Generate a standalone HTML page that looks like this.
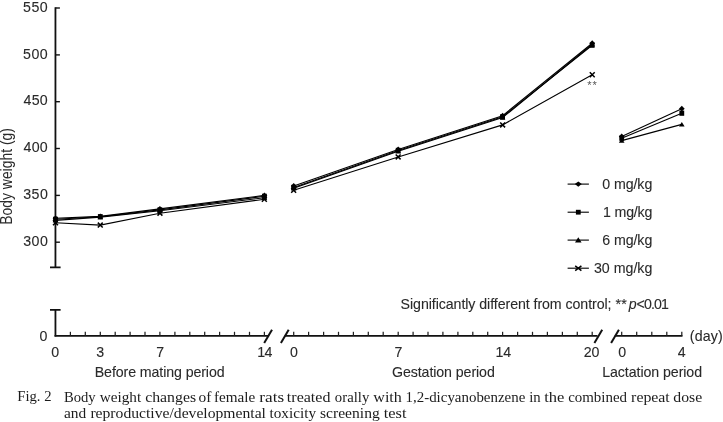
<!DOCTYPE html><html><head><meta charset="utf-8"><title>Fig. 2</title>
<style>html,body{margin:0;padding:0;background:#fff}body{width:723px;height:422px;overflow:hidden}svg{display:block}.a{font-family:"Liberation Sans",Arial,sans-serif;font-size:14.2px;fill:#2a2a2a;stroke:#2a2a2a;stroke-width:0.1px}.c{font-family:"Liberation Serif","Times New Roman",serif;font-size:14.4px;fill:#1c1c1c}</style></head><body>
<svg width="723" height="422" viewBox="0 0 723 422">
<rect width="723" height="422" fill="#fff"/>
<g stroke="#111" stroke-width="1.8" fill="none">
<path d="M55.45 7.3V267.3M50 267.3H60.6M50 309.9H60.6M55.45 309.9V336.59999999999997"/>
<path d="M55.45 8.0H59.9" stroke-width="1.4"/>
<path d="M55.45 54.9H59.9" stroke-width="1.4"/>
<path d="M55.45 101.7H59.9" stroke-width="1.4"/>
<path d="M55.45 148.5H59.9" stroke-width="1.4"/>
<path d="M55.45 195.4H59.9" stroke-width="1.4"/>
<path d="M55.45 242.2H59.9" stroke-width="1.4"/>
<path d="M54.550000000000004 335.85H268.3M284.8 335.85H597.5M614.8 335.85H682.5" stroke-width="1.9"/>
</g>
<g stroke="#222" stroke-width="1.25" fill="none">
<path d="M70.4 335.7V331.8"/>
<path d="M85.3 335.7V331.8"/>
<path d="M100.3 335.7V331.8"/>
<path d="M115.2 335.7V331.8"/>
<path d="M130.1 335.7V331.8"/>
<path d="M145.0 335.7V331.8"/>
<path d="M159.9 335.7V331.8"/>
<path d="M174.9 335.7V331.8"/>
<path d="M189.8 335.7V331.8"/>
<path d="M204.7 335.7V331.8"/>
<path d="M219.6 335.7V331.8"/>
<path d="M234.5 335.7V331.8"/>
<path d="M249.5 335.7V331.8"/>
<path d="M264.4 335.7V331.8"/>
<path d="M293.7 335.7V331.8"/>
<path d="M308.6 335.7V331.8"/>
<path d="M323.6 335.7V331.8"/>
<path d="M338.5 335.7V331.8"/>
<path d="M353.4 335.7V331.8"/>
<path d="M368.3 335.7V331.8"/>
<path d="M383.2 335.7V331.8"/>
<path d="M398.2 335.7V331.8"/>
<path d="M413.1 335.7V331.8"/>
<path d="M428.0 335.7V331.8"/>
<path d="M442.9 335.7V331.8"/>
<path d="M457.9 335.7V331.8"/>
<path d="M472.8 335.7V331.8"/>
<path d="M487.7 335.7V331.8"/>
<path d="M502.6 335.7V331.8"/>
<path d="M517.6 335.7V331.8"/>
<path d="M532.5 335.7V331.8"/>
<path d="M547.4 335.7V331.8"/>
<path d="M562.4 335.7V331.8"/>
<path d="M577.3 335.7V331.8"/>
<path d="M592.2 335.7V331.8"/>
<path d="M621.7 335.7V331.8"/>
<path d="M636.7 335.7V331.8"/>
<path d="M651.8 335.7V331.8"/>
<path d="M666.8 335.7V331.8"/>
<path d="M681.8 335.7V331.8"/>
</g>
<g stroke="#111" stroke-width="2" fill="none">
<path d="M264.2 342.9L272.0 329.7"/>
<path d="M280.9 342.9L288.7 329.7"/>
<path d="M594.4 342.9L602.2 329.7"/>
<path d="M611.1 342.9L618.9 329.7"/>
</g>
<g stroke="#000" stroke-width="1.1" fill="none">
<polyline points="55.5,218.3 100.3,216.4 159.9,208.9 264.4,195.4"/>
<polyline points="293.7,186.0 398.2,149.5 502.6,115.7 592.2,43.2"/>
<polyline points="621.7,136.4 681.8,108.7"/>
<polyline points="55.5,219.3 100.3,216.7 159.9,209.9 264.4,196.3"/>
<polyline points="293.7,187.4 398.2,150.4 502.6,116.7 592.2,45.2"/>
<polyline points="621.7,138.2 681.8,113.2"/>
<polyline points="55.5,220.4 100.3,217.1 159.9,210.8 264.4,197.7"/>
<polyline points="293.7,188.3 398.2,151.3 502.6,117.6 592.2,44.3"/>
<polyline points="621.7,140.6 681.8,124.4"/>
<polyline points="55.5,222.7 100.3,225.1 159.9,213.2 264.4,199.3"/>
<polyline points="293.7,190.2 398.2,157.0 502.6,124.9 592.2,74.7"/>
</g>
<path d="M55.5 215.4L58.4 218.3L55.5 221.2L52.6 218.3Z" fill="#000"/>
<path d="M100.3 213.5L103.2 216.4L100.3 219.3L97.4 216.4Z" fill="#000"/>
<path d="M159.9 206.0L162.8 208.9L159.9 211.8L157.0 208.9Z" fill="#000"/>
<path d="M264.4 192.5L267.3 195.4L264.4 198.3L261.5 195.4Z" fill="#000"/>
<path d="M293.7 183.1L296.6 186.0L293.7 188.9L290.8 186.0Z" fill="#000"/>
<path d="M398.2 146.6L401.1 149.5L398.2 152.4L395.3 149.5Z" fill="#000"/>
<path d="M502.6 112.8L505.5 115.7L502.6 118.6L499.8 115.7Z" fill="#000"/>
<path d="M592.2 40.3L595.1 43.2L592.2 46.1L589.3 43.2Z" fill="#000"/>
<path d="M621.7 133.5L624.6 136.4L621.7 139.3L618.8 136.4Z" fill="#000"/>
<path d="M681.8 105.8L684.7 108.7L681.8 111.6L678.9 108.7Z" fill="#000"/>
<rect x="53.1" y="216.7" width="4.8" height="5.2" fill="#000"/>
<rect x="97.9" y="214.1" width="4.8" height="5.2" fill="#000"/>
<rect x="157.5" y="207.3" width="4.8" height="5.2" fill="#000"/>
<rect x="262.0" y="193.7" width="4.8" height="5.2" fill="#000"/>
<rect x="291.3" y="184.8" width="4.8" height="5.2" fill="#000"/>
<rect x="395.8" y="147.8" width="4.8" height="5.2" fill="#000"/>
<rect x="500.2" y="114.1" width="4.8" height="5.2" fill="#000"/>
<rect x="589.8" y="42.6" width="4.8" height="5.2" fill="#000"/>
<rect x="619.3" y="135.6" width="4.8" height="5.2" fill="#000"/>
<rect x="679.4" y="110.6" width="4.8" height="5.2" fill="#000"/>
<path d="M55.5 217.9L58.3 222.6L52.7 222.6Z" fill="#000"/>
<path d="M100.3 214.6L103.1 219.3L97.5 219.3Z" fill="#000"/>
<path d="M159.9 208.3L162.7 213.0L157.1 213.0Z" fill="#000"/>
<path d="M264.4 195.2L267.2 199.9L261.6 199.9Z" fill="#000"/>
<path d="M293.7 185.8L296.5 190.5L290.9 190.5Z" fill="#000"/>
<path d="M398.2 148.8L401.0 153.5L395.4 153.5Z" fill="#000"/>
<path d="M502.6 115.1L505.4 119.8L499.8 119.8Z" fill="#000"/>
<path d="M592.2 41.8L595.0 46.5L589.4 46.5Z" fill="#000"/>
<path d="M621.7 138.1L624.5 142.8L618.9 142.8Z" fill="#000"/>
<path d="M681.8 121.9L684.6 126.6L679.0 126.6Z" fill="#000"/>
<path d="M53.0 220.3L58.0 225.2M53.0 225.2L58.0 220.3" stroke="#000" stroke-width="1.5" fill="none"/>
<path d="M97.8 222.6L102.7 227.5M97.8 227.5L102.7 222.6" stroke="#000" stroke-width="1.5" fill="none"/>
<path d="M157.5 210.7L162.4 215.6M157.5 215.6L162.4 210.7" stroke="#000" stroke-width="1.5" fill="none"/>
<path d="M261.9 196.8L266.8 201.7M261.9 201.7L266.8 196.8" stroke="#000" stroke-width="1.5" fill="none"/>
<path d="M291.2 187.8L296.1 192.7M291.2 192.7L296.1 187.8" stroke="#000" stroke-width="1.5" fill="none"/>
<path d="M395.7 154.5L400.6 159.4M395.7 159.4L400.6 154.5" stroke="#000" stroke-width="1.5" fill="none"/>
<path d="M500.2 122.5L505.1 127.4M500.2 127.4L505.1 122.5" stroke="#000" stroke-width="1.5" fill="none"/>
<path d="M589.8 72.3L594.7 77.2M589.8 77.2L594.7 72.3" stroke="#000" stroke-width="1.5" fill="none"/>
<text id="y550" class="a" x="22.99" y="11.7" textLength="24.75" lengthAdjust="spacing">550</text>
<text id="y500" class="a" x="22.99" y="58.6" textLength="24.75" lengthAdjust="spacing">500</text>
<text id="y450" class="a" x="23.52" y="105.4" textLength="24.20" lengthAdjust="spacing">450</text>
<text id="y400" class="a" x="23.52" y="152.2" textLength="24.20" lengthAdjust="spacing">400</text>
<text id="y350" class="a" x="23.13" y="199.1" textLength="24.71" lengthAdjust="spacing">350</text>
<text id="y300" class="a" x="23.13" y="245.9" textLength="24.71" lengthAdjust="spacing">300</text>
<text id="y0" class="a" x="43.50" y="340.8" text-anchor="middle" textLength="7.9">0</text>
<text id="b0" class="a" x="55.25" y="356.8" text-anchor="middle" textLength="7.9">0</text>
<text id="b3" class="a" x="100.25" y="356.8" text-anchor="middle" textLength="7.9">3</text>
<text id="b7" class="a" x="160.10" y="356.8" text-anchor="middle" textLength="7.9">7</text>
<text id="b14" class="a" x="257.19" y="356.8" textLength="15.08" lengthAdjust="spacing">14</text>
<text id="g0" class="a" x="294.05" y="356.8" text-anchor="middle" textLength="7.9">0</text>
<text id="g7" class="a" x="398.55" y="356.8" text-anchor="middle" textLength="7.9">7</text>
<text id="g14" class="a" x="495.50" y="356.8" textLength="15.52" lengthAdjust="spacing">14</text>
<text id="g20" class="a" x="583.80" y="356.8" textLength="15.47" lengthAdjust="spacing">20</text>
<text id="l0" class="a" x="622.30" y="356.8" text-anchor="middle" textLength="7.9">0</text>
<text id="l4" class="a" x="681.70" y="356.8" text-anchor="middle" textLength="7.9">4</text>
<text id="day" class="a" x="689.84" y="341.3" textLength="32.87" lengthAdjust="spacing">(day)</text>
<text id="pb" class="a" x="94.74" y="377.4" textLength="129.86" lengthAdjust="spacing">Before mating period</text>
<text id="pg" class="a" x="391.98" y="377.4" textLength="102.80" lengthAdjust="spacing">Gestation period</text>
<text id="pl" class="a" x="602.23" y="377.4" textLength="99.84" lengthAdjust="spacing">Lactation period</text>
<text id="sig" class="a" x="400.61" y="309.0" textLength="210.93" lengthAdjust="spacing">Significantly different from control;</text>
<text id="sig2" class="a" x="615.39" y="309.0" textLength="11.44" lengthAdjust="spacing">**</text>
<text id="sig3" class="a" x="628.63" y="309.0" textLength="8.37" lengthAdjust="spacing"><tspan font-style="italic">p</tspan></text>
<text id="sig4" class="a" x="636.61" y="309.0" textLength="32.40" lengthAdjust="spacing">&lt;0.01</text>
<text id="k0" class="a" x="602.16" y="189.0" textLength="50.12" lengthAdjust="spacing">0 mg/kg</text>
<text id="k1" class="a" x="603.06" y="216.9" textLength="49.30" lengthAdjust="spacing">1 mg/kg</text>
<text id="k6" class="a" x="602.20" y="245.0" textLength="50.08" lengthAdjust="spacing">6 mg/kg</text>
<text id="k30" class="a" x="593.90" y="272.6" textLength="58.45" lengthAdjust="spacing">30 mg/kg</text>
<text id="fig" class="c" x="17.28" y="401.4" textLength="34.21" lengthAdjust="spacingAndGlyphs">Fig. 2</text>
<text id="w1_0" class="c" x="63.91" y="401.6" textLength="31.71" lengthAdjust="spacingAndGlyphs">Body</text>
<text id="w1_1" class="c" x="99.80" y="401.6" textLength="41.41" lengthAdjust="spacingAndGlyphs">weight</text>
<text id="w1_2" class="c" x="145.19" y="401.6" textLength="50.86" lengthAdjust="spacingAndGlyphs">changes</text>
<text id="w1_3" class="c" x="198.64" y="401.6" textLength="12.85" lengthAdjust="spacingAndGlyphs">of</text>
<text id="w1_4" class="c" x="213.96" y="401.6" textLength="41.28" lengthAdjust="spacingAndGlyphs">female</text>
<text id="w1_5" class="c" x="259.35" y="401.6" textLength="24.77" lengthAdjust="spacingAndGlyphs">rats</text>
<text id="w1_6" class="c" x="286.87" y="401.6" textLength="43.54" lengthAdjust="spacingAndGlyphs">treated</text>
<text id="w1_7" class="c" x="334.87" y="401.6" textLength="34.40" lengthAdjust="spacingAndGlyphs">orally</text>
<text id="w1_8" class="c" x="373.31" y="401.6" textLength="28.56" lengthAdjust="spacingAndGlyphs">with</text>
<text id="w1_9" class="c" x="405.54" y="401.6" textLength="119.77" lengthAdjust="spacingAndGlyphs">1,2-dicyanobenzene</text>
<text id="w1_10" class="c" x="529.28" y="401.6" textLength="11.48" lengthAdjust="spacingAndGlyphs">in</text>
<text id="w1_11" class="c" x="544.15" y="401.6" textLength="20.16" lengthAdjust="spacingAndGlyphs">the</text>
<text id="w1_12" class="c" x="568.15" y="401.6" textLength="58.94" lengthAdjust="spacingAndGlyphs">combined</text>
<text id="w1_13" class="c" x="631.13" y="401.6" textLength="38.65" lengthAdjust="spacingAndGlyphs">repeat</text>
<text id="w1_14" class="c" x="673.28" y="401.6" textLength="28.90" lengthAdjust="spacingAndGlyphs">dose</text>
<text id="w2_0" class="c" x="64.01" y="417.7" textLength="22.23" lengthAdjust="spacingAndGlyphs">and</text>
<text id="w2_1" class="c" x="90.40" y="417.7" textLength="175.57" lengthAdjust="spacingAndGlyphs">reproductive/developmental</text>
<text id="w2_2" class="c" x="269.54" y="417.7" textLength="46.50" lengthAdjust="spacingAndGlyphs">toxicity</text>
<text id="w2_3" class="c" x="320.02" y="417.7" textLength="59.71" lengthAdjust="spacingAndGlyphs">screening</text>
<text id="w2_4" class="c" x="383.67" y="417.7" textLength="22.82" lengthAdjust="spacingAndGlyphs">test</text>
<text class="a" transform="translate(12.4,224.7) rotate(-90)" textLength="96.6" lengthAdjust="spacingAndGlyphs" style="font-size:15.8px;stroke:none">Body weight (g)</text>
<path d="M567.6 184.1H588.9" stroke="#000" stroke-width="1.1"/>
<path d="M578.3 181.4L581.8 184.1L578.3 186.8L574.8 184.1Z" fill="#000"/>
<path d="M567.6 212.2H588.9" stroke="#000" stroke-width="1.1"/>
<rect x="575.9" y="209.8" width="4.8" height="4.8" fill="#000"/>
<path d="M567.6 240.1H588.9" stroke="#000" stroke-width="1.1"/>
<path d="M578.3 237.2L581.6 242.6L575.0 242.6Z" fill="#000"/>
<path d="M567.6 268.2H588.9" stroke="#000" stroke-width="1.1"/>
<path d="M575.2 265.8L581.4 270.6M575.2 270.6L581.4 265.8" stroke="#000" stroke-width="1.5" fill="none"/>
<text x="587.2" y="89.2" textLength="9.6" style="font-family:'Liberation Sans',Arial,sans-serif;font-size:11px;fill:#555">**</text>
</svg></body></html>
